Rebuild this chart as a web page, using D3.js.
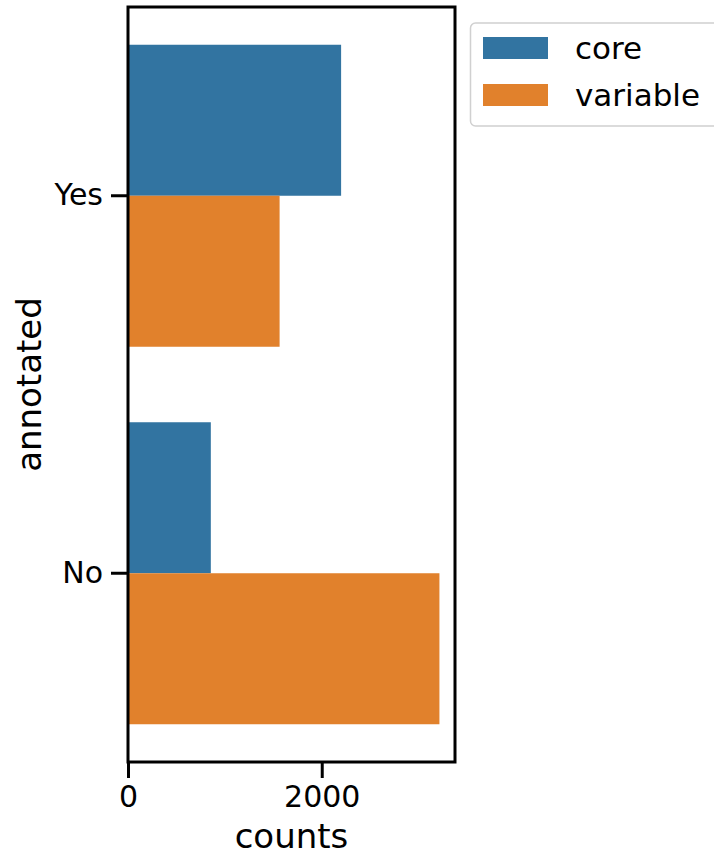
<!DOCTYPE html>
<html><head><meta charset="utf-8">
<script src="https://cdn.jsdelivr.net/npm/d3@7"></script>
<style>body{margin:0;background:#fff;}svg{display:block;font-family:"DejaVu Sans",sans-serif;}</style>
</head><body>
<svg id="chart" width="714" height="856"></svg>
<script>
const categories = ["Yes", "No"];
const seriesNames = ["core", "variable"];
const coreValues = [2200, 855];
const variableValues = [1565, 3215];
const xTicks = [0, 2000];
const colors = ["#3274a1", "#e1812c"];

const svg = d3.select("#chart");
const L = 128, R = 455, T = 7, B = 762;
const maxV = d3.max([...coreValues, ...variableValues]);
const x = d3.scaleLinear().domain([0, maxV * 1.05]).range([L, R]);
const y = d3.scaleBand().domain(categories).range([T, B]).paddingInner(0.2).paddingOuter(0.1);
const ySub = d3.scaleBand().domain(seriesNames).range([0, y.bandwidth()]);

const data = [];
categories.forEach((c, i) => {
  data.push({cat: c, s: "core", v: coreValues[i]});
  data.push({cat: c, s: "variable", v: variableValues[i]});
});

svg.append("g").selectAll("rect").data(data).join("rect")
  .attr("x", x(0))
  .attr("y", d => y(d.cat) + ySub(d.s))
  .attr("width", d => x(d.v) - x(0))
  .attr("height", ySub.bandwidth())
  .attr("fill", d => colors[seriesNames.indexOf(d.s)]);

// frame
svg.append("rect").attr("x", L).attr("y", T).attr("width", R - L).attr("height", B - T)
  .attr("fill", "none").attr("stroke", "#000").attr("stroke-width", 3);

// x axis
const xa = svg.append("g").attr("transform", `translate(0,${B})`)
  .call(d3.axisBottom(x).tickValues(xTicks).tickSize(16).tickPadding(8).tickFormat(d3.format("d")));
xa.select(".domain").remove();
xa.selectAll("line").attr("stroke", "#000").attr("stroke-width", 3);
xa.selectAll("text").attr("font-size", 30).attr("fill", "#000").attr("font-family", "DejaVu Sans");

// y axis
const ya = svg.append("g").attr("transform", `translate(${L},0)`)
  .call(d3.axisLeft(y).tickSize(17).tickPadding(8));
ya.select(".domain").remove();
ya.selectAll("line").attr("stroke", "#000").attr("stroke-width", 3);
ya.selectAll("text").attr("font-size", 30).attr("fill", "#000").attr("font-family", "DejaVu Sans");

// axis labels
svg.append("text").attr("x", (L + R) / 2).attr("y", 848).attr("text-anchor", "middle")
  .attr("font-size", 34).text("counts");
svg.append("text").attr("transform", `translate(41,${(T + B) / 2}) rotate(-90)`)
  .attr("text-anchor", "middle").attr("font-size", 34).text("annotated");

// legend
const lg = svg.append("g");
lg.append("rect").attr("x", 470.5).attr("y", 23).attr("width", 250).attr("height", 103)
  .attr("rx", 5).attr("fill", "#fff").attr("stroke", "#d0d0d0").attr("stroke-width", 1.5);
seriesNames.forEach((s, i) => {
  lg.append("rect").attr("x", 483).attr("y", 37 + i * 47).attr("width", 65).attr("height", 22)
    .attr("fill", colors[i]);
  lg.append("text").attr("x", 575).attr("y", 59 + i * 47).attr("font-size", 31).text(s);
});
</script>
</body></html>
